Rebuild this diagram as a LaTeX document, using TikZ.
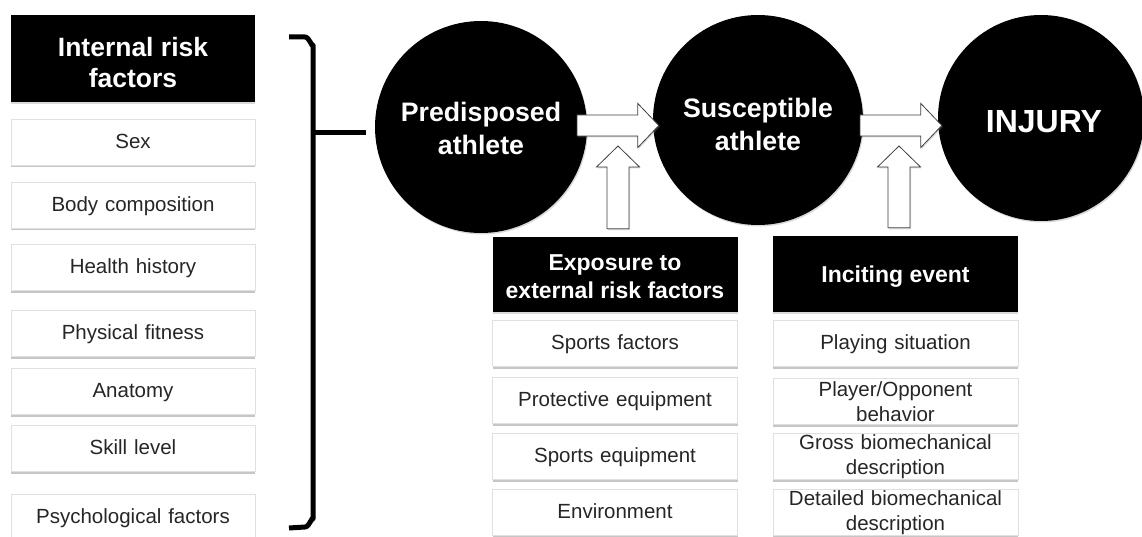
\documentclass[tikz,border=0pt]{standalone}
\usepackage{fontspec}
\setmainfont{Liberation Sans}
\usetikzlibrary{calc,shadows}

\newcommand\harrow[2]{\draw[blockarr] ($(#1)+(0,-10.5)$) -- ($(#2)+(-21,-10.5)$) -- ($(#2)+(-21,-22)$) -- (#2) -- ($(#2)+(-21,22)$) -- ($(#2)+(-21,10.5)$) -- ($(#1)+(0,10.5)$) -- cycle;}
\newcommand\varrow[2]{\draw[blockarr] ($(#1)+(-11,0)$) -- ($(#2)+(-11,21)$) -- ($(#2)+(-21.5,21)$) -- (#2) -- ($(#2)+(21.5,21)$) -- ($(#2)+(11,21)$) -- ($(#1)+(11,0)$) -- cycle;}

\begin{document}
\begin{tikzpicture}[x=1pt,y=-1pt,
      item/.style={draw=black!12, fill=white, minimum width=244pt, minimum height=46pt,
        text width=238pt, align=center, inner sep=0pt, text=black!85,
        font=\fontsize{20.5}{24.5}\selectfont,
        drop shadow={opacity=0.45, shadow xshift=0pt, shadow yshift=-2pt}},
      one/.style={item, text height=17pt, text depth=4.5pt},
      head/.style={fill=black, minimum width=245pt, inner sep=0pt,
        drop shadow={opacity=0.3, shadow xshift=0pt, shadow yshift=-2pt}},
      headtxt/.style={text=white, align=center, inner sep=0pt,
        font=\bfseries\fontsize{23}{28}\selectfont},
      ball/.style={circle, fill=black, inner sep=0pt,
        drop shadow={opacity=0.3, shadow xshift=1pt, shadow yshift=-1.5pt}},
      balltxt/.style={text=white, align=center, inner sep=0pt,
        font=\bfseries\fontsize{26.7}{33}\selectfont},
      blockarr/.style={fill=white, draw=black!75, line width=0.8pt, line join=miter,
        drop shadow={opacity=0.3, shadow xshift=1pt, shadow yshift=-1.5pt}},
      bracket/.style={line width=5pt, line cap=butt, line join=round}
      ]
      \useasboundingbox (0,0) rectangle (1142,537);

      % internal risk factors
      \node[head, minimum width=244pt, minimum height=87pt] (irf) at (133,58.5) {};
      \node[headtxt, font=\bfseries\fontsize{26.5}{31}\selectfont] (irf-t) at ($(irf.center)+(0,4)$) {Internal risk\\factors};
      \node[one] (sex) at (133,142.5) {Sex};
      \node[one] (body) at (133,205.5) {Body composition};
      \node[one] (hist) at (133,267.5) {Health history};
      \node[one] (fit) at (133,333.5) {Physical fitness};
      \node[one] (anat) at (133,391.5) {Anatomy};
      \node[one] (skill) at (133,448.5) {Skill level};
      \node[one] (psych) at (133,517.5) {Psychological factors};

      % bracket
      \coordinate (brtop) at (289,37);
      \coordinate (brbot) at (289,528);
      \coordinate (brtip) at (313,133);
      \coordinate (brend) at (366,133);
      \draw[bracket] (brtop) -- (305,37) to[out=0,in=-90] (313,45) -- (313,519) to[out=90,in=0] (305,527) -- (brbot);
      \draw[bracket] (brtip) -- (brend);

      % athletes
      \node[ball, minimum size=212pt] (pre) at (481,127) {};
      \node[balltxt] (pre-t) at ($(pre.center)+(0,1)$) {Predisposed\\athlete};
      \node[ball, minimum size=210pt] (sus) at (758,120) {};
      \node[balltxt] (sus-t) at ($(sus.center)+(0,4)$) {Susceptible\\athlete};
      \node[ball, minimum size=206pt] (inj) at (1041,118) {};
      \node[balltxt, font=\bfseries\fontsize{32}{36}\selectfont] (inj-t) at ($(inj.center)+(3,4)$) {INJURY};

      % exposure
      \node[head, minimum height=75pt] (expo) at (615,274.5) {};
      \node[headtxt] (expo-t) at ($(expo.center)+(0,2)$) {Exposure to\\external risk factors};
      \node[one, minimum width=245pt] (spf) at (615,343.5) {Sports factors};
      \node[one, minimum width=245pt] (prot) at (615,400.5) {Protective equipment};
      \node[one, minimum width=245pt] (speq) at (615,456.5) {Sports equipment};
      \node[one, minimum width=245pt] (env) at (615,512.5) {Environment};

      % inciting event
      \node[head, minimum height=76pt] (inc) at (895.5,274) {};
      \node[headtxt] (inc-t) at ($(inc.center)+(0,3)$) {Inciting event};
      \node[one, minimum width=245pt] (play) at (895.5,343.5) {Playing situation};
      \node[item, minimum width=245pt] (opp) at (895.5,401.5) {Player/Opponent\\behavior};
      \node[item, minimum width=245pt] (gross) at (895.5,456.5) {Gross biomechanical\\description};
      \node[item, minimum width=245pt] (det) at (895.5,512.5) {Detailed biomechanical\\description};

      % arrows
      \coordinate (h1s) at ($(pre.center)+(96,-1.5)$);
      \coordinate (h1e) at ($(sus.west)+(6,5.5)$);
      \coordinate (h2s) at ($(sus.center)+(102,5.5)$);
      \coordinate (h2e) at ($(inj.west)+(4,7.5)$);
      \coordinate (u1s) at ($(expo.north)+(3,-8)$);
      \coordinate (u1e) at (618,146);
      \coordinate (u2s) at ($(inc.north)+(3.5,-8)$);
      \coordinate (u2e) at (899,146);
      \harrow{h1s}{h1e}
      \harrow{h2s}{h2e}
      \varrow{u1s}{u1e}
      \varrow{u2s}{u2e}
      \end{tikzpicture}
\end{document}
